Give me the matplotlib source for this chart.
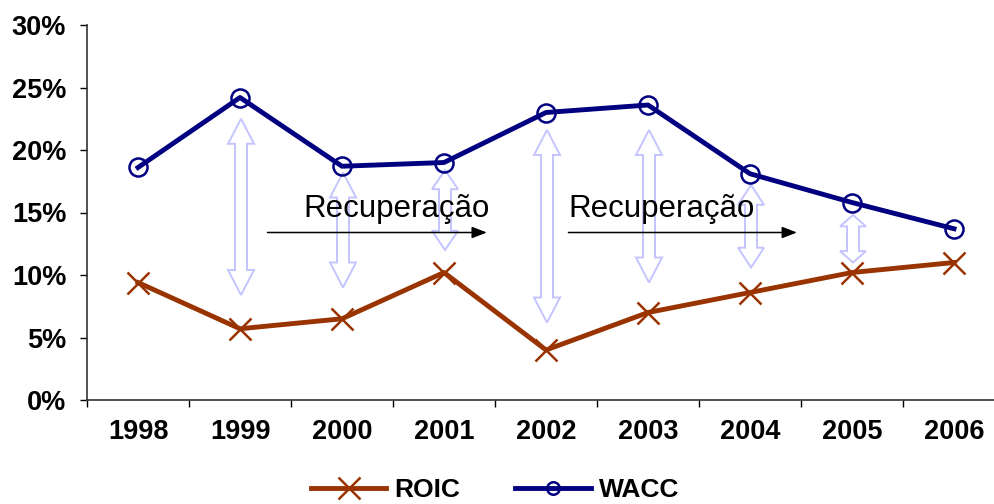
import numpy as np
import matplotlib
matplotlib.use('Agg')
import matplotlib.pyplot as plt
from matplotlib.patches import Polygon
from matplotlib.transforms import IdentityTransform

# Datos
years = ['1998', '1999', '2000', '2001', '2002', '2003', '2004', '2005', '2006']
roic = [9.4, 5.7, 6.5, 10.2, 4.0, 7.0, 8.6, 10.2, 11.0]
wacc = [18.6, 24.2, 18.7, 19.0, 23.0, 23.6, 18.1, 15.8, 13.7]

# Flechas dobles (gap entre WACC y ROIC)
gap_years = ['1999', '2000', '2001', '2002', '2003', '2004', '2005']
gap_top = [22.5, 18.2, 18.4, 21.6, 21.6, 17.2, 14.8]
gap_bot = [8.4, 9.0, 12.0, 6.2, 9.4, 10.6, 11.0]

# Flechas "Recuperação": (x inicio, x fin) en indice de categoria, y en %
recup_x0 = [1.27, 4.22]
recup_x1 = [3.42, 6.46]
recup_y = 13.4
recup_text = 'Recuperação'

plt.rcParams['font.family'] = ['Liberation Sans', 'DejaVu Sans']

fig = plt.figure(figsize=(9.94, 5.04), dpi=100)
ax = fig.add_axes([87 / 994, 1 - 400 / 504, 918 / 994, 375 / 504])

x = np.arange(len(years))
ax.set_xlim(-0.5, len(years) - 0.5)
ax.set_ylim(0, 30)

ax.plot(x, roic, color='#993300', lw=3.5, marker='x', ms=16, mew=1.8, label='ROIC', zorder=4)
ax.plot(x, wacc, color='#000080', lw=3.5, marker='o', ms=13, mew=1.8, mfc='none', label='WACC', zorder=4)

# ejes
for s in ['top', 'right']:
    ax.spines[s].set_visible(False)
for s in ['left', 'bottom']:
    ax.spines[s].set_linewidth(1.2)
    ax.spines[s].set_color('#333333')

ax.set_yticks(np.arange(0, 31, 5))
ax.set_yticklabels([f'{v}%' for v in range(0, 31, 5)])
ax.tick_params(axis='y', length=5, width=1, pad=10, labelsize=19.5)
for lbl in ax.get_yticklabels():
    lbl.set_fontweight('bold')

ax.set_xticks(np.arange(-0.5, len(years), 1.0))
ax.set_xticklabels([])
ax.tick_params(axis='x', which='major', length=5, width=1)
ax.set_xticks(x, minor=True)
ax.set_xticklabels(years, minor=True, fontsize=19.5, fontweight='bold')
ax.tick_params(axis='x', which='minor', length=0, pad=14)


# flechas dobles huecas, dibujadas en pixeles
def double_arrow(ax, xc, y0, y1, shaft=12, head_w=26):
    px, top = ax.transData.transform((xc, y0))
    _, bot = ax.transData.transform((xc, y1))
    head_l = min(0.24 * (top - bot), 25)
    hs, hh = shaft / 2, head_w / 2
    verts = [(px, top), (px + hh, top - head_l), (px + hs, top - head_l),
             (px + hs, bot + head_l), (px + hh, bot + head_l), (px, bot),
             (px - hh, bot + head_l), (px - hs, bot + head_l),
             (px - hs, top - head_l), (px - hh, top - head_l)]
    p = Polygon(verts, closed=True, fc='none', ec='#c4c4ff', lw=1.4, zorder=2)
    p.set_transform(IdentityTransform())
    ax.add_artist(p)


for yr, t, b in zip(gap_years, gap_top, gap_bot):
    double_arrow(ax, years.index(yr) + 0.01, t, b)

for x0, x1 in zip(recup_x0, recup_x1):
    ax.annotate('', xy=(x1, recup_y), xytext=(x0, recup_y),
                arrowprops=dict(arrowstyle='-|>,head_length=0.9,head_width=0.35',
                                color='black', lw=1.1, shrinkA=0, shrinkB=0),
                zorder=3)
ax.text(1.62, 14.6, recup_text, fontsize=22.5, ha='left', va='baseline', zorder=3)
ax.text(4.22, 14.6, recup_text, fontsize=22.5, ha='left', va='baseline', zorder=3)

leg = fig.legend(loc='center', bbox_to_anchor=(0.498, 0.027), ncol=2, frameon=False,
                 prop={'size': 19, 'weight': 'bold'}, handlelength=2.85,
                 handletextpad=0.3, columnspacing=2.1)
leg.legend_handles[1].set_markersize(9)

fig.savefig('out.png', dpi=100)
